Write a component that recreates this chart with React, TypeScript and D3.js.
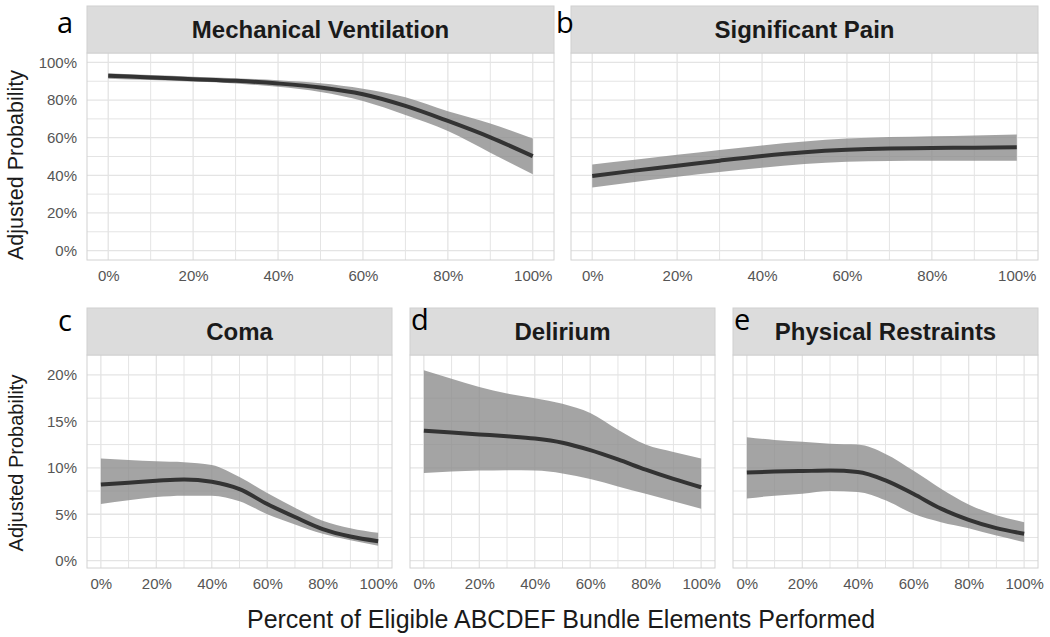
import React, {useEffect, useRef} from 'react';
import * as d3 from 'd3';

// x positions (percent of bundle elements performed)
const xPct = [0, 10, 20, 30, 40, 50, 60, 70, 80, 90, 100];

// panel titles and letters
const titles = ['Mechanical Ventilation', 'Significant Pain', 'Coma', 'Delirium', 'Physical Restraints'];
const letters = ['a', 'b', 'c', 'd', 'e'];

// adjusted probability (%), fit with lower / upper band
const ventFit = [92.9, 92.0, 91.1, 90.2, 88.8, 86.7, 83.1, 76.9, 68.9, 60.2, 50.2];
const ventLow = [91.3, 90.6, 89.8, 88.8, 87.0, 84.3, 79.5, 72.0, 63.5, 52.0, 40.6];
const ventHigh = [94.3, 93.3, 92.4, 91.6, 90.5, 88.9, 86.0, 81.5, 74.0, 67.5, 59.5];

const painFit = [39.6, 42.5, 45.1, 47.8, 50.3, 52.3, 53.6, 54.3, 54.5, 54.7, 54.9];
const painLow = [33.5, 36.5, 39.3, 41.8, 44.0, 46.0, 47.2, 47.6, 47.8, 47.8, 47.8];
const painHigh = [45.8, 48.3, 50.9, 53.5, 55.9, 58.0, 59.5, 60.3, 60.8, 61.2, 61.7];

const comaFit = [8.2, 8.4, 8.6, 8.75, 8.5, 7.7, 6.1, 4.7, 3.4, 2.6, 2.1];
const comaLow = [6.1, 6.5, 6.85, 7.0, 7.0, 6.4, 5.0, 3.9, 2.9, 2.2, 1.6];
const comaHigh = [11.0, 10.85, 10.7, 10.6, 10.3, 9.0, 7.3, 5.7, 4.3, 3.5, 3.0];

const delirFit = [14.0, 13.8, 13.6, 13.4, 13.15, 12.7, 11.9, 10.9, 9.8, 8.8, 7.9];
const delirLow = [9.45, 9.6, 9.7, 9.75, 9.7, 9.4, 8.8, 8.0, 7.2, 6.4, 5.6];
const delirHigh = [20.5, 19.6, 18.7, 18.0, 17.5, 16.9, 15.9, 14.1, 12.5, 11.7, 11.0];

const restrFit = [9.5, 9.6, 9.65, 9.7, 9.55, 8.65, 7.2, 5.6, 4.4, 3.5, 2.9];
const restrLow = [6.7, 7.0, 7.2, 7.5, 7.4, 6.5, 5.05, 4.15, 3.5, 2.7, 2.0];
const restrHigh = [13.3, 13.0, 12.8, 12.6, 12.5, 11.5, 9.7, 7.75, 6.05, 4.9, 4.15];

// tick labels
const xTicks = [0, 20, 40, 60, 80, 100];
const xMinor = [10, 30, 50, 70, 90];
const yTicksTop = [0, 20, 40, 60, 80, 100];
const yMinorTop = [10, 30, 50, 70, 90];
const yTicksBottom = [0, 5, 10, 15, 20];
const yMinorBottom = [2.5, 7.5, 12.5, 17.5];

const App: React.FC = () => {
  const svgRef = useRef<SVGSVGElement>(null);

  useEffect(() => {
    const svg = d3.select(svgRef.current);
    svg.selectAll('*').remove();

    const font = '"Liberation Sans", Arial, sans-serif';
    // row layout
    const rows = [
      {stripTop: 6, plotTop: 53, plotBottom: 260, yDomain: [-5, 105], ticks: yTicksTop, minor: yMinorTop, titleY: 165, titleSize: 21.5},
      {stripTop: 308, plotTop: 355, plotBottom: 568, yDomain: [-0.79, 22.15], ticks: yTicksBottom, minor: yMinorBottom, titleY: 463, titleSize: 20},
    ];
    const panels = [
      {row: 0, x0: 87, x1: 554, fit: ventFit, low: ventLow, high: ventHigh, lx: 57, ly: 33},
      {row: 0, x0: 571, x1: 1038, fit: painFit, low: painLow, high: painHigh, lx: 556, ly: 33},
      {row: 1, x0: 87, x1: 392, fit: comaFit, low: comaLow, high: comaHigh, lx: 58, ly: 331},
      {row: 1, x0: 410, x1: 715, fit: delirFit, low: delirLow, high: delirHigh, lx: 411, ly: 330},
      {row: 1, x0: 733, x1: 1038, fit: restrFit, low: restrLow, high: restrHigh, lx: 734, ly: 330},
    ];

    panels.forEach((p, i) => {
      const r = rows[p.row];
      const x = d3.scaleLinear().domain([-5, 105]).range([p.x0, p.x1]);
      const y = d3.scaleLinear().domain(r.yDomain).range([r.plotBottom, r.plotTop]);
      const g = svg.append('g');

      // panel background + grid
      g.append('rect')
        .attr('x', p.x0).attr('y', r.plotTop)
        .attr('width', p.x1 - p.x0).attr('height', r.plotBottom - r.plotTop)
        .attr('fill', '#fff');
      const grid = g.append('g').attr('stroke', '#e4e4e4');
      [...r.ticks, ...r.minor].forEach((v) => {
        grid.append('line')
          .attr('x1', p.x0).attr('x2', p.x1)
          .attr('y1', y(v)).attr('y2', y(v))
          .attr('stroke-width', r.ticks.includes(v) ? 1.3 : 1);
      });
      [...xTicks, ...xMinor].forEach((v) => {
        grid.append('line')
          .attr('y1', r.plotTop).attr('y2', r.plotBottom)
          .attr('x1', x(v)).attr('x2', x(v))
          .attr('stroke-width', xTicks.includes(v) ? 1.3 : 1);
      });

      // confidence band and fitted line
      const band = d3.area<number>()
        .x((d, k) => x(xPct[k]))
        .y0((d, k) => y(p.low[k]))
        .y1((d, k) => y(p.high[k]))
        .curve(d3.curveMonotoneX);
      g.append('path').datum(p.fit).attr('d', band)
        .attr('fill', '#8a8a8a').attr('fill-opacity', 0.78);
      const line = d3.line<number>()
        .x((d, k) => x(xPct[k]))
        .y((d) => y(d))
        .curve(d3.curveMonotoneX);
      g.append('path').datum(p.fit).attr('d', line)
        .attr('fill', 'none').attr('stroke', '#333').attr('stroke-width', 4)
        .attr('stroke-linecap', 'butt');

      // panel border
      g.append('rect')
        .attr('x', p.x0).attr('y', r.plotTop)
        .attr('width', p.x1 - p.x0).attr('height', r.plotBottom - r.plotTop)
        .attr('fill', 'none').attr('stroke', '#d2d2d2').attr('stroke-width', 1);

      // strip
      g.append('rect')
        .attr('x', p.x0).attr('y', r.stripTop)
        .attr('width', p.x1 - p.x0).attr('height', r.plotTop - r.stripTop)
        .attr('fill', '#dcdcdc').attr('stroke', '#d0d0d0').attr('stroke-width', 1);
      g.append('text')
        .attr('x', (p.x0 + p.x1) / 2)
        .attr('y', (r.stripTop + r.plotTop) / 2 + 8.5)
        .attr('text-anchor', 'middle')
        .attr('font-family', font).attr('font-weight', 'bold').attr('font-size', 24)
        .attr('fill', '#1a1a1a')
        .text(titles[i]);

      // x axis
      const xAxis = d3.axisBottom(x).tickValues(xTicks).tickSize(0).tickPadding(10)
        .tickFormat((d) => d + '%');
      const xg = g.append('g').attr('transform', `translate(0,${r.plotBottom})`).call(xAxis);
      xg.select('.domain').remove();
      xg.selectAll('text').attr('font-family', font).attr('font-size', 15).attr('fill', '#555');

      // y axis on left panels only
      if (p.x0 === 87) {
        const yAxis = d3.axisLeft(y).tickValues(r.ticks).tickSize(0).tickPadding(10)
          .tickFormat((d) => d + '%');
        const yg = g.append('g').attr('transform', `translate(${p.x0},0)`).call(yAxis);
        yg.select('.domain').remove();
        yg.selectAll('text').attr('font-family', font).attr('font-size', 15).attr('fill', '#555');
        g.append('text')
          .attr('transform', `translate(23,${r.titleY}) rotate(-90)`)
          .attr('text-anchor', 'middle')
          .attr('font-family', font).attr('font-size', r.titleSize).attr('fill', '#1a1a1a')
          .text('Adjusted Probability');
      }

      // panel letter
      svg.append('text')
        .attr('x', p.lx).attr('y', p.ly)
        .attr('font-family', '"Open Sans", sans-serif').attr('font-size', 29)
        .attr('fill', '#000')
        .text(letters[i]);
    });

    // x axis title
    svg.append('text')
      .attr('x', 561).attr('y', 628)
      .attr('text-anchor', 'middle')
      .attr('font-family', font).attr('font-size', 25).attr('fill', '#1a1a1a')
      .text('Percent of Eligible ABCDEF Bundle Elements Performed');
  }, []);

  return (
    <svg
      ref={svgRef}
      width={1050}
      height={637}
      style={{position: 'absolute', left: 0, top: 0, background: '#fff'}}
    />
  );
};

export default App;
